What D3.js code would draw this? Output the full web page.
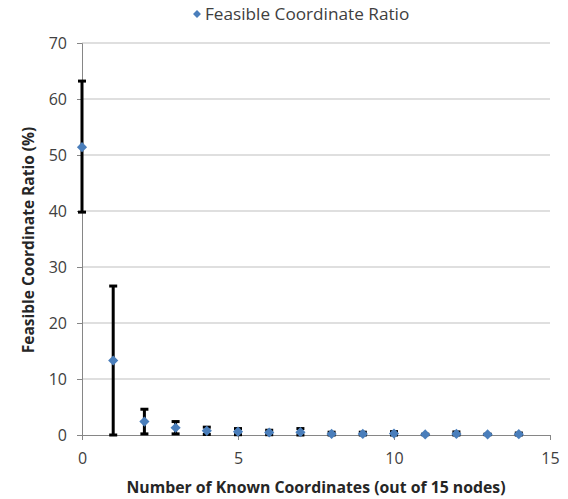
<!DOCTYPE html>
<html>
<head>
<meta charset="utf-8">
<script src="https://cdn.jsdelivr.net/npm/d3@7"></script>
<style>
  body { margin: 0; background: #fff; }
  svg { font-family: "Open Sans", "Liberation Sans", sans-serif; }
</style>
</head>
<body>
<div class="chart"></div>
<script>
// values
const knownCoords = [0, 1, 2, 3, 4, 5, 6, 7, 8, 9, 10, 11, 12, 13, 14];
const ratioMean   = [51.4, 13.3, 2.4, 1.3, 0.75, 0.6, 0.45, 0.5, 0.2, 0.2, 0.25, 0.1, 0.2, 0.1, 0.15];
const ratioUpper  = [63.2, 26.6, 4.6, 2.4, 1.4, 1.15, 0.85, 1.15, 0.5, 0.5, 0.6, 0.15, 0.55, 0.15, 0.35];
const ratioLower  = [39.8, 0, 0.2, 0.2, 0.1, 0.05, 0.05, 0, 0, 0, 0, 0.05, 0, 0.05, 0];
const yTicks = [0, 10, 20, 30, 40, 50, 60, 70];
const xTicks = [0, 5, 10, 15];

const width = 568, height = 499;
const margin = {top: 43, right: 18, bottom: 64, left: 82};
const plotW = width - margin.left - margin.right;
const plotH = height - margin.top - margin.bottom;

const svg = d3.select(".chart").append("svg")
    .attr("width", width)
    .attr("height", height);

const xScale = d3.scaleLinear().domain([0, 15]).range([margin.left, margin.left + plotW]);
const yScale = d3.scaleLinear().domain([0, 70]).range([margin.top + plotH, margin.top]);

// gridlines
svg.append("g")
    .selectAll("line")
    .data(yTicks.filter(d => d > 0))
    .enter()
    .append("line")
    .attr("x1", xScale(0))
    .attr("x2", xScale(15))
    .attr("y1", d => yScale(d))
    .attr("y2", d => yScale(d))
    .attr("stroke", "#bfbfbf")
    .attr("stroke-width", 1);

// y axis
const yAxis = svg.append("g")
    .attr("transform", `translate(${xScale(0)},0)`)
    .call(d3.axisLeft(yScale).tickValues(yTicks).tickSize(5).tickPadding(10));
yAxis.select(".domain").attr("stroke", "#868686");
yAxis.selectAll(".tick line").attr("stroke", "#868686");
yAxis.selectAll("text")
    .attr("font-size", 16)
    .attr("fill", "#404040")
    .attr("font-family", "Open Sans, sans-serif");

// x axis
const xAxis = svg.append("g")
    .attr("transform", `translate(0,${yScale(0)})`)
    .call(d3.axisBottom(xScale).tickValues(xTicks).tickSize(5).tickPadding(13));
xAxis.select(".domain").attr("stroke", "#868686");
xAxis.selectAll(".tick line").attr("stroke", "#868686");
xAxis.selectAll("text")
    .attr("font-size", 16)
    .attr("fill", "#404040")
    .attr("font-family", "Open Sans, sans-serif");

// error bars
const bars = svg.append("g")
    .selectAll("g")
    .data(knownCoords)
    .enter()
    .append("g");

bars.append("line")
    .attr("x1", d => xScale(d))
    .attr("x2", d => xScale(d))
    .attr("y1", (d, i) => yScale(ratioUpper[i]))
    .attr("y2", (d, i) => yScale(ratioLower[i]))
    .attr("stroke", "#000")
    .attr("stroke-width", 3);

["upper", "lower"].forEach(side => {
    const src = side === "upper" ? ratioUpper : ratioLower;
    bars.append("line")
        .attr("x1", d => xScale(d) - 4)
        .attr("x2", d => xScale(d) + 4)
        .attr("y1", (d, i) => yScale(src[i]))
        .attr("y2", (d, i) => yScale(src[i]))
        .attr("stroke", "#000")
        .attr("stroke-width", 3);
});

// markers
const diamond = d3.symbol().type(d3.symbolDiamond2).size(66);
svg.append("g")
    .selectAll("path")
    .data(knownCoords)
    .enter()
    .append("path")
    .attr("d", diamond)
    .attr("transform", (d, i) => `translate(${xScale(d)},${yScale(ratioMean[i])})`)
    .attr("fill", "#4a7ebb");

// legend
const legend = svg.append("g").attr("transform", "translate(197,14)");
legend.append("path")
    .attr("d", d3.symbol().type(d3.symbolDiamond2).size(40))
    .attr("fill", "#4a7ebb");
legend.append("text")
    .attr("x", 8)
    .attr("y", 5.5)
    .attr("font-size", 17.2)
    .attr("fill", "#404040")
    .text("Feasible Coordinate Ratio");

// axis titles
svg.append("text")
    .attr("x", 316)
    .attr("y", 493)
    .attr("text-anchor", "middle")
    .attr("font-size", 15.8)
    .attr("font-weight", "bold")
    .attr("fill", "#262626")
    .text("Number of Known Coordinates (out of 15 nodes)");

svg.append("text")
    .attr("transform", "translate(34,240) rotate(-90)")
    .attr("text-anchor", "middle")
    .attr("font-size", 15.5)
    .attr("font-weight", "bold")
    .attr("fill", "#262626")
    .text("Feasible Coordinate Ratio (%)");
</script>
</body>
</html>
